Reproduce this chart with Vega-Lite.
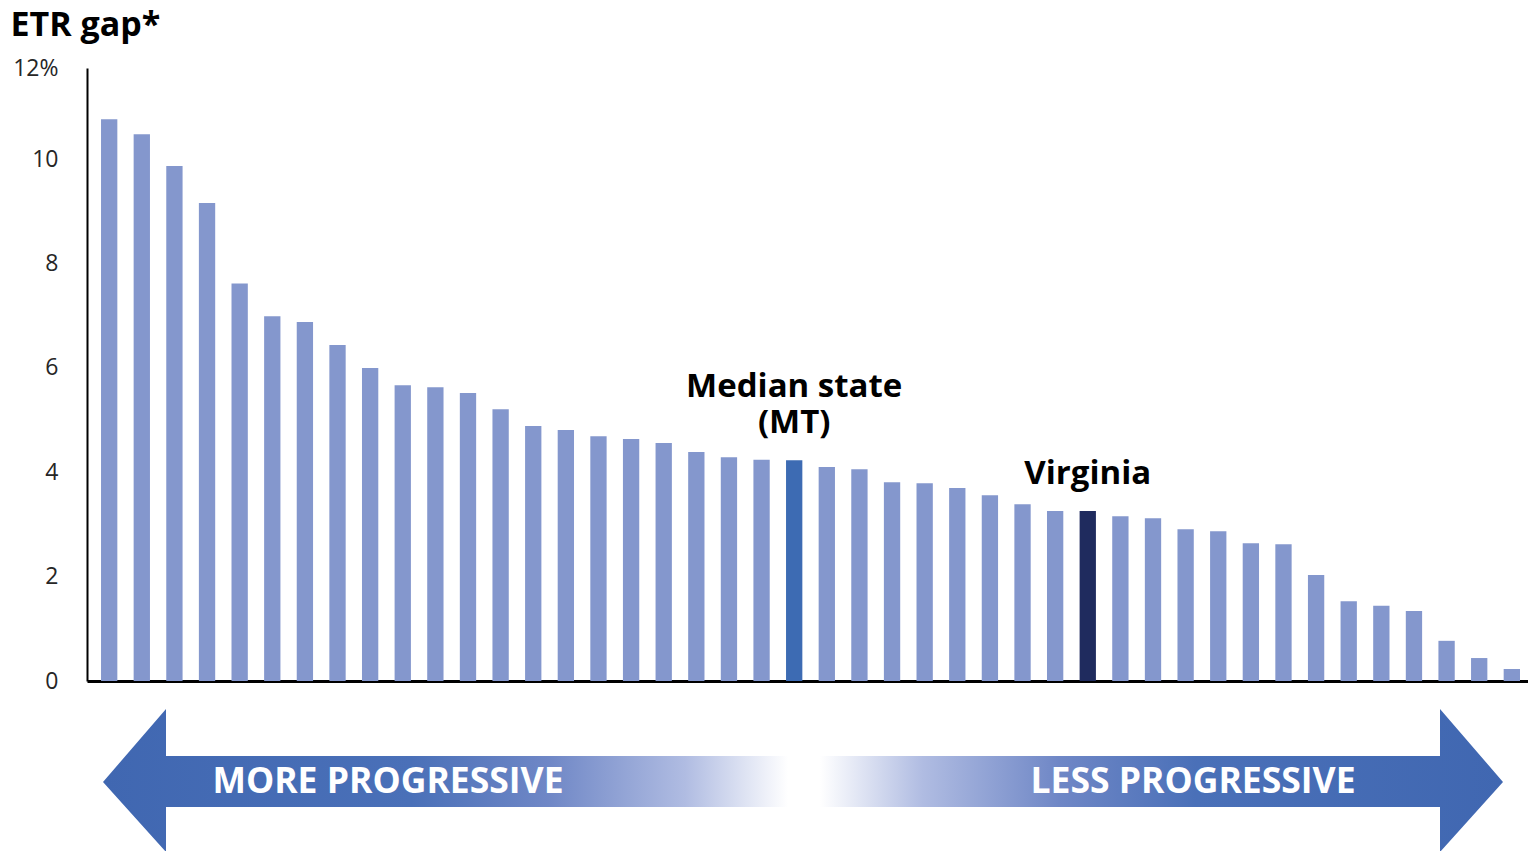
{
  "$schema": "https://vega.github.io/schema/vega-lite/v6.json",
  "background": "white",
  "padding": {"left": 10, "top": 8, "right": 0, "bottom": 0},
  "bounds": "flush",
  "spacing": 28,
  "config": {"view": {"stroke": null}, "font": "Open Sans"},
  "datasets": {
    "bars": [
      {"rank": 1, "gap": 10.77, "kind": "other", "label": ""},
      {"rank": 2, "gap": 10.48, "kind": "other", "label": ""},
      {"rank": 3, "gap": 9.87, "kind": "other", "label": ""},
      {"rank": 4, "gap": 9.16, "kind": "other", "label": ""},
      {"rank": 5, "gap": 7.62, "kind": "other", "label": ""},
      {"rank": 6, "gap": 6.99, "kind": "other", "label": ""},
      {"rank": 7, "gap": 6.88, "kind": "other", "label": ""},
      {"rank": 8, "gap": 6.44, "kind": "other", "label": ""},
      {"rank": 9, "gap": 6.0, "kind": "other", "label": ""},
      {"rank": 10, "gap": 5.67, "kind": "other", "label": ""},
      {"rank": 11, "gap": 5.63, "kind": "other", "label": ""},
      {"rank": 12, "gap": 5.52, "kind": "other", "label": ""},
      {"rank": 13, "gap": 5.21, "kind": "other", "label": ""},
      {"rank": 14, "gap": 4.89, "kind": "other", "label": ""},
      {"rank": 15, "gap": 4.81, "kind": "other", "label": ""},
      {"rank": 16, "gap": 4.69, "kind": "other", "label": ""},
      {"rank": 17, "gap": 4.64, "kind": "other", "label": ""},
      {"rank": 18, "gap": 4.56, "kind": "other", "label": ""},
      {"rank": 19, "gap": 4.39, "kind": "other", "label": ""},
      {"rank": 20, "gap": 4.29, "kind": "other", "label": ""},
      {"rank": 21, "gap": 4.24, "kind": "other", "label": ""},
      {"rank": 22, "gap": 4.23, "kind": "median", "label": "Median state\n(MT)"},
      {"rank": 23, "gap": 4.1, "kind": "other", "label": ""},
      {"rank": 24, "gap": 4.06, "kind": "other", "label": ""},
      {"rank": 25, "gap": 3.81, "kind": "other", "label": ""},
      {"rank": 26, "gap": 3.79, "kind": "other", "label": ""},
      {"rank": 27, "gap": 3.7, "kind": "other", "label": ""},
      {"rank": 28, "gap": 3.56, "kind": "other", "label": ""},
      {"rank": 29, "gap": 3.39, "kind": "other", "label": ""},
      {"rank": 30, "gap": 3.26, "kind": "other", "label": ""},
      {"rank": 31, "gap": 3.26, "kind": "virginia", "label": "Virginia"},
      {"rank": 32, "gap": 3.16, "kind": "other", "label": ""},
      {"rank": 33, "gap": 3.12, "kind": "other", "label": ""},
      {"rank": 34, "gap": 2.91, "kind": "other", "label": ""},
      {"rank": 35, "gap": 2.87, "kind": "other", "label": ""},
      {"rank": 36, "gap": 2.64, "kind": "other", "label": ""},
      {"rank": 37, "gap": 2.62, "kind": "other", "label": ""},
      {"rank": 38, "gap": 2.03, "kind": "other", "label": ""},
      {"rank": 39, "gap": 1.53, "kind": "other", "label": ""},
      {"rank": 40, "gap": 1.44, "kind": "other", "label": ""},
      {"rank": 41, "gap": 1.34, "kind": "other", "label": ""},
      {"rank": 42, "gap": 0.77, "kind": "other", "label": ""},
      {"rank": 43, "gap": 0.44, "kind": "other", "label": ""},
      {"rank": 44, "gap": 0.23, "kind": "other", "label": ""}
    ],
    "arrows": [
      {"arrow": "left", "ax": 16, "ytop": 70, "ybot": 70},
      {"arrow": "left", "ax": 79, "ytop": 143, "ybot": 0},
      {"arrow": "left", "ax": 79.01, "ytop": 96, "ybot": 45},
      {"arrow": "left", "ax": 701, "ytop": 96, "ybot": 45},
      {"arrow": "right", "ax": 733, "ytop": 96, "ybot": 45},
      {"arrow": "right", "ax": 1353, "ytop": 96, "ybot": 45},
      {"arrow": "right", "ax": 1353.01, "ytop": 143, "ybot": 0},
      {"arrow": "right", "ax": 1416, "ytop": 70, "ybot": 70}
    ],
    "arrowText": [
      {"tx": 301, "ty": 70, "text": "MORE PROGRESSIVE"},
      {"tx": 1106, "ty": 70, "text": "LESS PROGRESSIVE"}
    ]
  },
  "vconcat": [
    {
      "width": 1447,
      "height": 613,
      "data": {"name": "bars"},
      "encoding": {
        "x": {
          "field": "rank",
          "type": "ordinal",
          "scale": {"paddingInner": 0.5, "paddingOuter": 0.43},
          "axis": {"labels": false, "ticks": false, "title": null, "domainColor": "#000000", "domainWidth": 3}
        },
        "y": {
          "field": "gap",
          "type": "quantitative",
          "scale": {"domain": [0, 11.75], "nice": false},
          "axis": {
            "values": [0, 2, 4, 6, 8, 10, 11.75],
            "labelExpr": "datum.value > 11 ? '12%' : datum.label",
            "grid": false,
            "ticks": false,
            "domainColor": "#000000",
            "domainWidth": 2,
            "labelFontSize": 23,
            "labelColor": "#262626",
            "labelPadding": 29,
            "title": "ETR gap*",
            "titleAngle": 0,
            "titleAlign": "left",
            "titleBaseline": "alphabetic",
            "titleX": -77,
            "titleY": -33,
            "titleFontSize": 34,
            "titleFontWeight": "bold",
            "titleColor": "#000000"
          }
        }
      },
      "layer": [
        {
          "mark": {"type": "bar"},
          "encoding": {
            "color": {
              "field": "kind",
              "type": "nominal",
              "scale": {"domain": ["other", "median", "virginia"], "range": ["#8497cd", "#3d6bb3", "#1f2b5e"]},
              "legend": null
            }
          }
        },
        {
          "transform": [{"filter": "datum.kind == 'median'"}],
          "mark": {"type": "text", "baseline": "bottom", "align": "center", "dy": -56, "fontSize": 33, "fontWeight": "bold", "color": "#000000", "lineBreak": "\n", "lineHeight": 36},
          "encoding": {"text": {"field": "label"}}
        },
        {
          "transform": [{"filter": "datum.kind == 'virginia'"}],
          "mark": {"type": "text", "baseline": "bottom", "align": "center", "dy": -20, "fontSize": 33, "fontWeight": "bold", "color": "#000000"},
          "encoding": {"text": {"field": "label"}}
        }
      ]
    },
    {
      "width": 1447,
      "height": 143,
      "layer": [
        {
          "data": {"name": "arrows"},
          "transform": [{"filter": "datum.arrow == 'left'"}],
          "mark": {
            "type": "area",
            "interpolate": "linear",
            "color": {
              "gradient": "linear", "x1": 0, "x2": 1, "y1": 0, "y2": 0,
              "stops": [
                {"offset": 0, "color": "#4067b1"},
                {"offset": 0.45, "color": "#4a70b8"},
                {"offset": 0.65, "color": "#6f87c6"},
                {"offset": 0.85, "color": "#b0bce2"},
                {"offset": 1, "color": "#ffffff"}
              ]
            }
          },
          "encoding": {
            "x": {"field": "ax", "type": "quantitative", "scale": {"domain": [0, 1447], "nice": false, "zero": false}, "axis": null},
            "y": {"field": "ytop", "type": "quantitative", "scale": {"domain": [0, 143], "nice": false, "zero": false}, "axis": null},
            "y2": {"field": "ybot"}
          }
        },
        {
          "data": {"name": "arrows"},
          "transform": [{"filter": "datum.arrow == 'right'"}],
          "mark": {
            "type": "area",
            "interpolate": "linear",
            "color": {
              "gradient": "linear", "x1": 0, "x2": 1, "y1": 0, "y2": 0,
              "stops": [
                {"offset": 0, "color": "#ffffff"},
                {"offset": 0.15, "color": "#b0bce2"},
                {"offset": 0.35, "color": "#6f87c6"},
                {"offset": 0.55, "color": "#4a70b8"},
                {"offset": 1, "color": "#4067b1"}
              ]
            }
          },
          "encoding": {
            "x": {"field": "ax", "type": "quantitative", "scale": {"domain": [0, 1447], "nice": false, "zero": false}, "axis": null},
            "y": {"field": "ytop", "type": "quantitative", "scale": {"domain": [0, 143], "nice": false, "zero": false}, "axis": null},
            "y2": {"field": "ybot"}
          }
        },
        {
          "data": {"name": "arrowText"},
          "mark": {"type": "text", "align": "center", "baseline": "middle", "fontSize": 35.5, "fontWeight": "bold", "color": "#ffffff"},
          "encoding": {
            "x": {"field": "tx", "type": "quantitative", "scale": {"domain": [0, 1447], "nice": false, "zero": false}, "axis": null},
            "y": {"field": "ty", "type": "quantitative", "scale": {"domain": [0, 143], "nice": false, "zero": false}, "axis": null},
            "text": {"field": "text"}
          }
        }
      ]
    }
  ]
}
